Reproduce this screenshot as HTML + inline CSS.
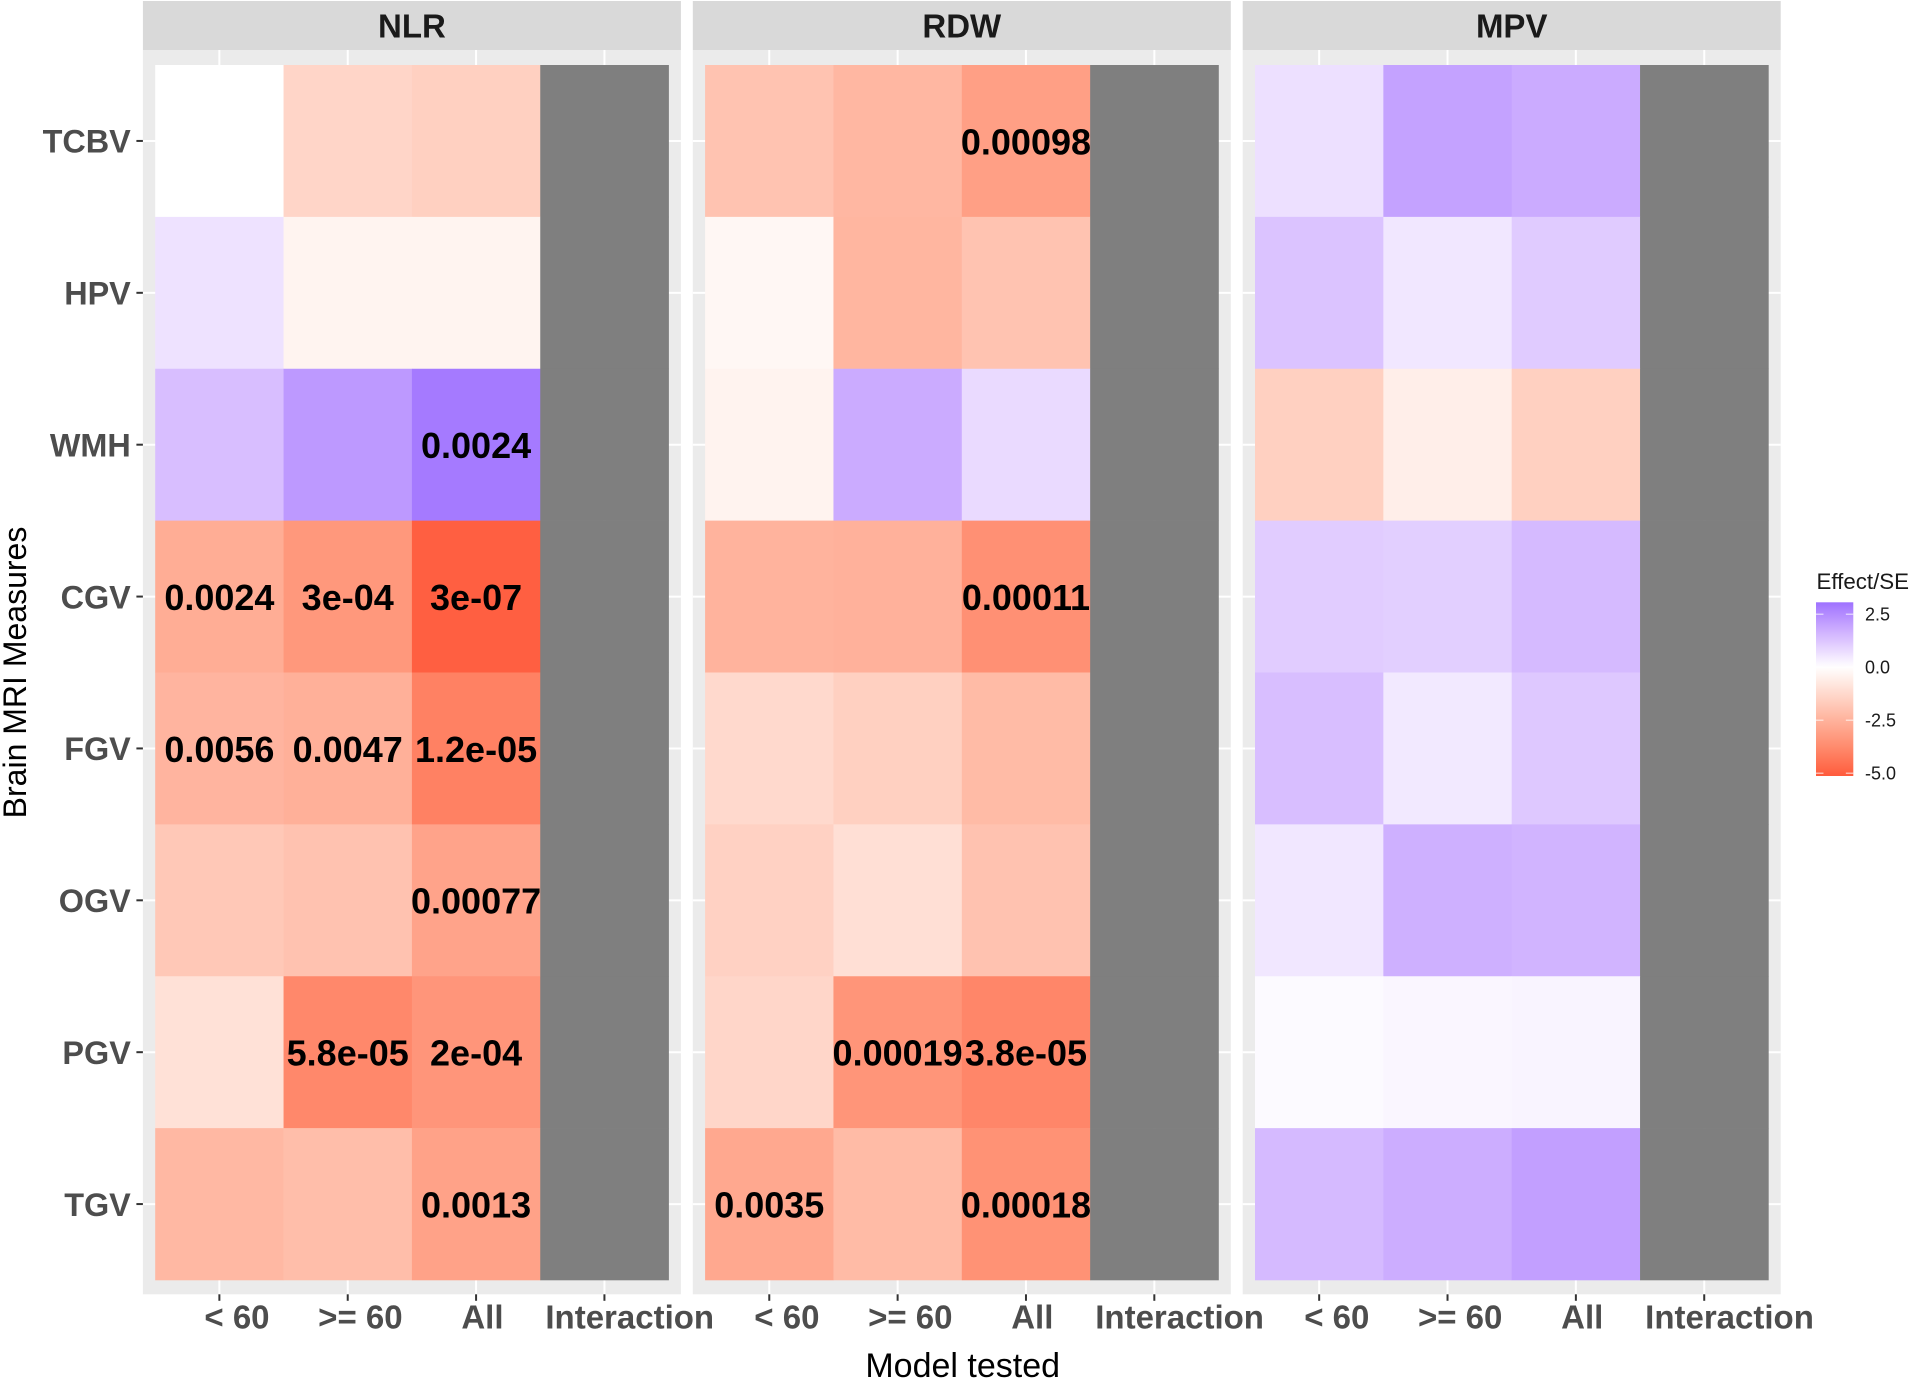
<!DOCTYPE html>
<html lang="en">
<head>
<meta charset="utf-8">
<title>Brain MRI Measures heatmap</title>
<style>
html,body{margin:0;padding:0;background:#fff;width:1911px;height:1378px;overflow:hidden}
svg{display:block;font-family:"Liberation Sans",Arial,sans-serif}
</style>
</head>
<body>
<svg id="chart" xmlns="http://www.w3.org/2000/svg" width="1911" height="1378" viewBox="0 0 1911 1378"></svg>
<script>
const panelNames = ["NLR", "RDW", "MPV"];
const modelLabels = ["< 60", ">= 60", "All", "Interaction"];
const measureLabels = ["TCBV", "HPV", "WMH", "CGV", "FGV", "OGV", "PGV", "TGV"];
const legendTicks = [2.5, 0, -2.5, -5];
const legendTickLabels = ["2.5", "0.0", "-2.5", "-5.0"];
const nlrValues = [
  [0, -1.37, -1.56, null],
  [0.62, -0.37, -0.37, null],
  [1.38, 2.2, 2.88, null],
  [-2.7, -3.36, -5.0, null],
  [-2.45, -2.6, -4.05, null],
  [-1.8, -2.0, -3.0, null],
  [-1.0, -3.83, -3.43, null],
  [-2.33, -2.15, -3.05, null]
];
const rdwValues = [
  [-1.96, -2.37, -3.13, null],
  [-0.27, -2.4, -1.96, null],
  [-0.4, 1.8, 0.78, null],
  [-2.5, -2.55, -3.6, null],
  [-1.25, -1.55, -2.25, null],
  [-1.5, -1.05, -2.0, null],
  [-1.35, -3.45, -3.9, null],
  [-2.85, -2.25, -3.55, null]
];
const mpvValues = [
  [0.65, 2.0, 1.8, null],
  [1.28, 0.5, 1.1, null],
  [-1.55, -0.55, -1.55, null],
  [1.08, 1.03, 1.48, null],
  [1.38, 0.47, 1.18, null],
  [0.5, 1.7, 1.6, null],
  [0.1, 0.2, 0.24, null],
  [1.48, 1.75, 2.07, null]
];
const nlrPvalues = [
  ["", "", "", ""],
  ["", "", "", ""],
  ["", "", "0.0024", ""],
  ["0.0024", "3e-04", "3e-07", ""],
  ["0.0056", "0.0047", "1.2e-05", ""],
  ["", "", "0.00077", ""],
  ["", "5.8e-05", "2e-04", ""],
  ["", "", "0.0013", ""]
];
const rdwPvalues = [
  ["", "", "0.00098", ""],
  ["", "", "", ""],
  ["", "", "", ""],
  ["", "", "0.00011", ""],
  ["", "", "", ""],
  ["", "", "", ""],
  ["", "0.00019", "3.8e-05", ""],
  ["0.0035", "", "0.00018", ""]
];
const mpvPvalues = [
  ["", "", "", ""],
  ["", "", "", ""],
  ["", "", "", ""],
  ["", "", "", ""],
  ["", "", "", ""],
  ["", "", "", ""],
  ["", "", "", ""],
  ["", "", "", ""]
];
const panelValues = [nlrValues, rdwValues, mpvValues];
const panelPvalues = [nlrPvalues, rdwPvalues, mpvPvalues];

const svgNS = "http://www.w3.org/2000/svg";
const root = document.getElementById("chart");

function el(tag, attrs, text) {
  const e = document.createElementNS(svgNS, tag);
  for (const k in attrs) e.setAttribute(k, attrs[k]);
  if (text !== undefined) e.textContent = text;
  return e;
}
function add(e, name, interactable) {
  
  
  root.appendChild(e);
  return e;
}

/* layout */
const PANEL_W = 538, PANEL_GAP = 11.9, PANEL_X0 = 142.9;
const STRIP_TOP = 1, STRIP_BOTTOM = 50, PANEL_BOTTOM = 1294.3;
const HEAT_INSET = 12.3, HEAT_TOP = 65, HEAT_BOTTOM = 1280;

function panelLeft(p) { return PANEL_X0 + p * (PANEL_W + PANEL_GAP); }
function cellWidth() { return (PANEL_W - 2 * HEAT_INSET) / modelLabels.length; }
function cellHeight() { return (HEAT_BOTTOM - HEAT_TOP) / measureLabels.length; }
function xBand(p, i) { return panelLeft(p) + HEAT_INSET + i * cellWidth(); }
function xCenter(p, i) { return xBand(p, i) + cellWidth() / 2; }
function yBand(r) { return HEAT_TOP + r * cellHeight(); }
function yCenter(r) { return yBand(r) + cellHeight() / 2; }
function xLabelJust(label) { return label === "< 60" ? 0.23 : 0.35; }

/* colour scale (Lab interpolation through white) */
const LOW_VALUE = -5.14, HIGH_VALUE = 3.05;
const LOW_COLOR = [255, 90, 60], HIGH_COLOR = [158, 114, 255], NA_COLOR = "#7f7f7f";
function toLin(c) { c /= 255; return c <= 0.04045 ? c / 12.92 : Math.pow((c + 0.055) / 1.055, 2.4); }
function fromLin(c) { const v = c <= 0.0031308 ? 12.92 * c : 1.055 * Math.pow(c, 1 / 2.4) - 0.055; return Math.round(255 * Math.min(1, Math.max(0, v))); }
function rgbToLab(rgb) {
  const r = toLin(rgb[0]), g = toLin(rgb[1]), b = toLin(rgb[2]);
  const f = t => t > 0.008856 ? Math.cbrt(t) : 7.787 * t + 16 / 116;
  const x = f((0.4124 * r + 0.3576 * g + 0.1805 * b) / 0.95047);
  const y = f(0.2126 * r + 0.7152 * g + 0.0722 * b);
  const z = f((0.0193 * r + 0.1192 * g + 0.9505 * b) / 1.08883);
  return [116 * y - 16, 500 * (x - y), 200 * (y - z)];
}
function labToRgb(l) {
  const fy = (l[0] + 16) / 116, fx = fy + l[1] / 500, fz = fy - l[2] / 200;
  const g = t => t * t * t > 0.008856 ? t * t * t : (t - 16 / 116) / 7.787;
  const x = 0.95047 * g(fx), y = g(fy), z = 1.08883 * g(fz);
  const r = 3.2406 * x - 1.5372 * y - 0.4986 * z;
  const gg = -0.9689 * x + 1.8758 * y + 0.0415 * z;
  const b = 0.0557 * x - 0.2040 * y + 1.0570 * z;
  return "rgb(" + fromLin(r) + "," + fromLin(gg) + "," + fromLin(b) + ")";
}
const WHITE_LAB = rgbToLab([255, 255, 255]);
const LOW_LAB = rgbToLab(LOW_COLOR), HIGH_LAB = rgbToLab(HIGH_COLOR);
function fillScale(v) {
  if (v === null) return NA_COLOR;
  const end = v < 0 ? LOW_LAB : HIGH_LAB;
  const t = Math.min(1, v < 0 ? v / LOW_VALUE : v / HIGH_VALUE);
  return labToRgb(WHITE_LAB.map((w, i) => w + (end[i] - w) * t));
}

/* panels */
panelNames.forEach(function (name, p) {
  const left = panelLeft(p);
  const key = name.toLowerCase();
  add(el("rect", { x: left, y: STRIP_BOTTOM, width: PANEL_W, height: PANEL_BOTTOM - STRIP_BOTTOM, fill: "#ebebeb" }), key + "-panel-background", "false");
  add(el("rect", { x: left, y: STRIP_TOP, width: PANEL_W, height: STRIP_BOTTOM - STRIP_TOP, fill: "#d9d9d9" }), key + "-strip", "false");
  add(el("text", { x: left + PANEL_W / 2, y: 37.5, "text-anchor": "middle", "font-size": 33, "font-weight": "bold", fill: "#1a1a1a" }, name), key + "-strip-label", "false");

  measureLabels.forEach(function (m, r) {
    add(el("line", { x1: left, x2: left + PANEL_W, y1: yCenter(r), y2: yCenter(r), stroke: "#fff", "stroke-width": 2 }), key + "-gridline-" + m.toLowerCase(), "false");
  });
  modelLabels.forEach(function (m, i) {
    add(el("line", { x1: xCenter(p, i), x2: xCenter(p, i), y1: STRIP_BOTTOM, y2: PANEL_BOTTOM, stroke: "#fff", "stroke-width": 2 }), key + "-gridline-model-" + i, "false");
  });

  panelValues[p].forEach(function (row, r) {
    row.forEach(function (v, i) {
      const rect = el("rect", { x: xBand(p, i), y: yBand(r), width: cellWidth() + 0.3, height: cellHeight() + 0.3, fill: fillScale(v) });
      add(rect, key + "-cell-" + measureLabels[r].toLowerCase() + "-" + i, "false");
    });
  });
  panelPvalues[p].forEach(function (row, r) {
    row.forEach(function (label, i) {
      if (label === "") return;
      const t = el("text", { x: xCenter(p, i), y: yCenter(r) + 13.4, "text-anchor": "middle", "font-size": 36, "font-weight": "bold", fill: "#000" }, label);
      add(t, key + "-pvalue-" + measureLabels[r].toLowerCase() + "-" + i, "false");
    });
  });

  /* x ticks and labels */
  modelLabels.forEach(function (m, i) {
    add(el("line", { x1: xCenter(p, i), x2: xCenter(p, i), y1: PANEL_BOTTOM, y2: 1300.8, stroke: "#333", "stroke-width": 2 }), key + "-x-tick-" + i, "false");
    const t = el("text", { x: xCenter(p, i), y: 1328.5, "font-size": 33, "font-weight": "bold", fill: "#4d4d4d" }, m);
    add(t, key + "-x-tick-label-" + i, "false");
    const w = t.getComputedTextLength();
    t.setAttribute("x", xCenter(p, i) - xLabelJust(m) * w);
  });
});

/* y axis */
measureLabels.forEach(function (m, r) {
  add(el("line", { x1: 136.4, x2: 142.9, y1: yCenter(r), y2: yCenter(r), stroke: "#333", "stroke-width": 2 }), "y-tick-" + m.toLowerCase(), "false");
  add(el("text", { x: 130.8, y: yCenter(r) + 11.8, "text-anchor": "end", "font-size": 32.4, "font-weight": "bold", fill: "#4d4d4d" }, m), "y-tick-label-" + m.toLowerCase(), "false");
});

/* axis titles */
add(el("text", { x: 962.7, y: 1377, "text-anchor": "middle", "font-size": 34, fill: "#000" }, "Model tested"), "x-axis-title", "false");
add(el("text", { transform: "translate(26,672.5) rotate(-90)", "text-anchor": "middle", "font-size": 32, fill: "#000" }, "Brain MRI Measures"), "y-axis-title", "false");

/* legend */
const LEG_X = 1816, LEG_W = 37.3, LEG_TOP = 602.3, LEG_BOTTOM = 776;
function legendY(v) { return 667.2 - v * 21.2; }
add(el("text", { x: 1816.5, y: 589, "font-size": 22.3, fill: "#1a1a1a" }, "Effect/SE"), "legend-title", "false");
const defs = el("defs", {});
const grad = el("linearGradient", { id: "legend-gradient", x1: 0, y1: 0, x2: 0, y2: 1 });
for (let s = 0; s <= 40; s++) {
  const v = HIGH_VALUE + (LOW_VALUE - HIGH_VALUE) * s / 40;
  grad.appendChild(el("stop", { offset: (s / 40), "stop-color": fillScale(v) }));
}
defs.appendChild(grad);
root.appendChild(defs);
add(el("rect", { x: LEG_X, y: LEG_TOP, width: LEG_W, height: LEG_BOTTOM - LEG_TOP, fill: "url(#legend-gradient)" }), "legend-colorbar", "false");
legendTicks.forEach(function (v, i) {
  const y = legendY(v);
  add(el("line", { x1: LEG_X, x2: LEG_X + LEG_W / 5, y1: y, y2: y, stroke: "#fff", "stroke-opacity": 0.7, "stroke-width": 1.2 }), "legend-tick-left-" + i, "false");
  add(el("line", { x1: LEG_X + LEG_W * 0.8, x2: LEG_X + LEG_W, y1: y, y2: y, stroke: "#fff", "stroke-opacity": 0.7, "stroke-width": 1.2 }), "legend-tick-right-" + i, "false");
  add(el("text", { x: 1865, y: y + 6.5, "font-size": 18, fill: "#1a1a1a" }, legendTickLabels[i]), "legend-label-" + i, "false");
});
</script>
</body>
</html>
